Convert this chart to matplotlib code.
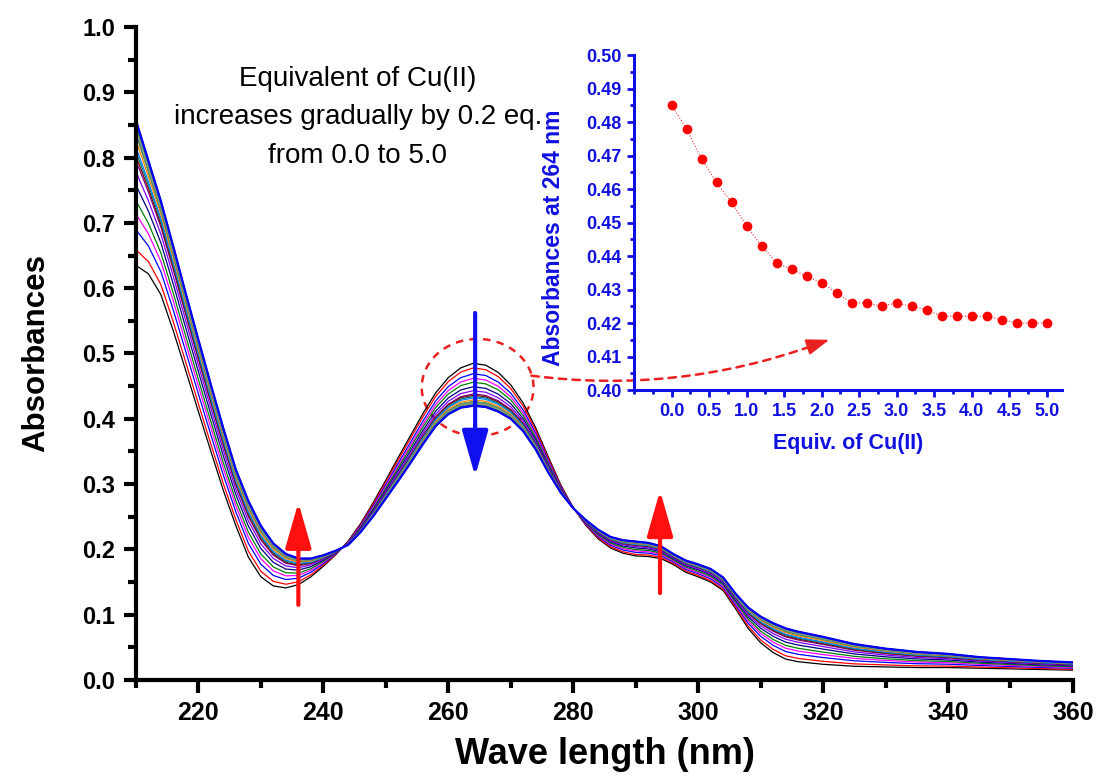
import matplotlib
matplotlib.use('agg')
import matplotlib.pyplot as plt
import matplotlib.patches as mpatches
from matplotlib.ticker import MultipleLocator, FormatStrFormatter
import numpy as np

plt.rcParams['font.family'] = ['Liberation Sans', 'DejaVu Sans']

# wavelengths (nm) and the first / last spectra
wl = [210, 212, 214, 216, 218, 220, 222, 224, 226, 228, 230, 232, 234, 236, 238,
      240, 242, 244, 246, 248, 250, 252, 254, 256, 258, 260, 262, 264, 266, 268,
      270, 272, 274, 276, 278, 280, 282, 284, 286, 288, 290, 292, 294, 296, 298,
      300, 302, 304, 306, 308, 310, 312, 314, 316, 318, 320, 325, 330, 335, 340,
      345, 350, 355, 360]
abs_0eq = [0.635, 0.622, 0.590, 0.534, 0.473, 0.411, 0.350, 0.290, 0.236, 0.188,
           0.158, 0.144, 0.141, 0.146, 0.158, 0.174, 0.192, 0.213, 0.240, 0.272,
           0.306, 0.341, 0.375, 0.409, 0.440, 0.463, 0.478, 0.485, 0.482, 0.471,
           0.452, 0.424, 0.386, 0.342, 0.299, 0.264, 0.237, 0.216, 0.202, 0.194,
           0.190, 0.189, 0.186, 0.177, 0.165, 0.158, 0.150, 0.137, 0.109, 0.079,
           0.057, 0.042, 0.032, 0.028, 0.026, 0.024, 0.021, 0.020, 0.019, 0.019,
           0.018, 0.017, 0.016, 0.015]
abs_5eq = [0.857, 0.795, 0.733, 0.663, 0.591, 0.521, 0.452, 0.385, 0.322, 0.274,
           0.236, 0.209, 0.193, 0.186, 0.186, 0.191, 0.198, 0.207, 0.227, 0.251,
           0.278, 0.305, 0.333, 0.362, 0.389, 0.407, 0.417, 0.420, 0.418, 0.411,
           0.400, 0.381, 0.353, 0.318, 0.287, 0.263, 0.245, 0.230, 0.219, 0.214,
           0.212, 0.210, 0.205, 0.193, 0.183, 0.177, 0.170, 0.157, 0.132, 0.111,
           0.097, 0.087, 0.079, 0.074, 0.070, 0.066, 0.055, 0.048, 0.043, 0.040,
           0.035, 0.032, 0.029, 0.027]

# inset: absorbance at 264 nm vs equivalents of Cu(II)
equiv = [0.0, 0.2, 0.4, 0.6, 0.8, 1.0, 1.2, 1.4, 1.6, 1.8, 2.0, 2.2, 2.4, 2.6,
         2.8, 3.0, 3.2, 3.4, 3.6, 3.8, 4.0, 4.2, 4.4, 4.6, 4.8, 5.0]
a264 = [0.485, 0.478, 0.469, 0.462, 0.456, 0.449, 0.443, 0.438, 0.436, 0.434,
        0.432, 0.429, 0.426, 0.426, 0.425, 0.426, 0.425, 0.424, 0.422, 0.422,
        0.422, 0.422, 0.421, 0.420, 0.420, 0.420]

line_colors = ['#000000', '#FF0000', '#0000FF', '#FF00FF', '#008000', '#000080',
               '#8000FF', '#800080', '#800000', '#008080', '#0080FF', '#FF8000',
               '#808080', '#808000', '#FF80C0', '#40A040', '#4080A0', '#A0A060',
               '#6060C0', '#20A0A0', '#C0C040', '#409080', '#606060']

wl = np.array(wl)
s0 = np.array(abs_0eq)
s1 = np.array(abs_5eq)
a = np.array(a264)

fig = plt.figure(figsize=(10.99, 7.78), dpi=100)
ax = fig.add_axes([0.1237, 0.126, 0.8526, 0.8393])

# each spectrum placed between first and last by its 264 nm reading
for i in range(len(equiv)):
    f = (a[0] - a[i]) / (a[0] - a[-1])
    spec = s0 + f * (s1 - s0)
    c = line_colors[i % len(line_colors)]
    lw = 1.6 if i == len(equiv) - 1 else 0.9
    ax.plot(wl, spec, color=c, lw=lw)

ax.set_xlim(210, 360)
ax.set_ylim(0, 1.0)
for s in ['top', 'right']:
    ax.spines[s].set_visible(False)
for s in ['left', 'bottom']:
    ax.spines[s].set_linewidth(3)
ax.xaxis.set_major_locator(MultipleLocator(20))
ax.xaxis.set_minor_locator(MultipleLocator(10))
ax.yaxis.set_major_locator(MultipleLocator(0.1))
ax.yaxis.set_minor_locator(MultipleLocator(0.05))
ax.yaxis.set_major_formatter(FormatStrFormatter('%.1f'))
ax.tick_params(which='major', direction='out', length=9, width=3, pad=6)
ax.tick_params(which='minor', direction='out', length=5.5, width=3)
for t in ax.get_yticklabels():
    t.set_fontsize(17)
    t.set_fontweight('bold')
for t in ax.get_xticklabels():
    t.set_fontsize(18)
    t.set_fontweight('bold')
ax.set_xlabel('Wave length (nm)', fontsize=26, fontweight='bold', labelpad=9)
ax.set_ylabel('Absorbances', fontsize=22.5, fontweight='bold', labelpad=22)

ax.text(245.5, 0.862, 'Equivalent of Cu(II)\nincreases gradually by 0.2 eq.\nfrom 0.0 to 5.0',
        ha='center', va='center', fontsize=20, linespacing=1.63)

# arrows showing the trend
ax.annotate('', xy=(264.3, 0.312), xytext=(264.3, 0.562),
            arrowprops=dict(arrowstyle='-|>,head_length=1.4,head_width=0.4',
                            color='#1010F0', lw=3, mutation_scale=20,
                            shrinkA=0, shrinkB=0))
for xa, y0, y1 in [(236.0, 0.115, 0.272), (293.9, 0.133, 0.290)]:
    ax.annotate('', xy=(xa, y1), xytext=(xa, y0),
                arrowprops=dict(arrowstyle='-|>,head_length=1.4,head_width=0.4',
                                color='#FF1010', lw=3, mutation_scale=20,
                                shrinkA=0, shrinkB=0))

ax.add_patch(mpatches.Ellipse((264.7, 0.448), 17.9, 0.1485, fill=False,
                              ec='#E82020', lw=1.8, ls=(0, (3, 2.5))))
# dashed link from the circle to the inset, with a solid head
ax.annotate('', xy=(318.5, 0.5125), xytext=(273.3, 0.466),
            arrowprops=dict(arrowstyle='-', color='#E82020', lw=1.8,
                            ls=(0, (3, 2.5)), shrinkA=0, shrinkB=0,
                            connectionstyle='arc3,rad=0.12'))
ax.annotate('', xy=(321.0, 0.521), xytext=(318.0, 0.5115),
            arrowprops=dict(arrowstyle='-|>,head_length=1.0,head_width=0.35',
                            color='#E82020', lw=1.5, mutation_scale=14,
                            shrinkA=0, shrinkB=0))

# inset
blue = '#1010E0'
ins = fig.add_axes([0.5769, 0.4987, 0.3891, 0.4306])
ins.patch.set_alpha(0)
ins.plot(equiv, a264, color='#F03030', lw=0.8, ls=':', marker='o', ms=6,
         mfc='#FF0000', mec='#FF0000')
ins.set_xlim(-0.5, 5.2)
ins.set_ylim(0.40, 0.50)
for s in ['top', 'right']:
    ins.spines[s].set_visible(False)
for s in ['left', 'bottom']:
    ins.spines[s].set_linewidth(2.2)
    ins.spines[s].set_color(blue)
ins.xaxis.set_major_locator(MultipleLocator(0.5))
ins.xaxis.set_minor_locator(MultipleLocator(0.25))
ins.yaxis.set_major_locator(MultipleLocator(0.01))
ins.yaxis.set_minor_locator(MultipleLocator(0.005))
ins.set_xticks([0, 0.5, 1.0, 1.5, 2.0, 2.5, 3.0, 3.5, 4.0, 4.5, 5.0])
ins.xaxis.set_major_formatter(FormatStrFormatter('%.1f'))
ins.yaxis.set_major_formatter(FormatStrFormatter('%.2f'))
ins.tick_params(which='major', direction='out', length=5, width=2, colors=blue, pad=4)
ins.tick_params(which='minor', direction='out', length=3, width=2, colors=blue)
for t in ins.get_xticklabels() + ins.get_yticklabels():
    t.set_fontsize(13)
    t.set_fontweight('bold')
ins.set_xlabel('Equiv. of Cu(II)', fontsize=15.5, fontweight='bold', color=blue, labelpad=10)
ins.set_ylabel('Absorbances at 264 nm', fontsize=16.5, fontweight='bold', color=blue)
ins.yaxis.set_label_coords(-0.162, 0.454)

fig.savefig('out.png', dpi=100)
